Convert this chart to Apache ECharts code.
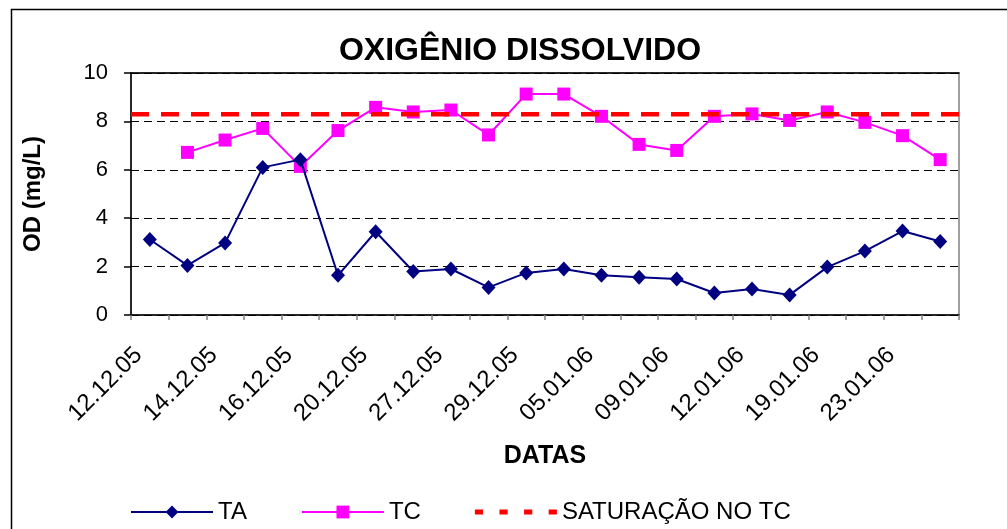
<!DOCTYPE html>
<html>
<head>
<meta charset="utf-8">
<script src="https://cdn.jsdelivr.net/npm/echarts@6/dist/echarts.min.js"></script>
<style>html,body{margin:0;padding:0;background:#fff}#c{width:1007px;height:529px}</style>
</head>
<body>
<div id="c"></div>
<script>
var categories = ['12.12.05','13.12.05','14.12.05','15.12.05','16.12.05','19.12.05','20.12.05','21.12.05','27.12.05','28.12.05','29.12.05','03.01.06','05.01.06','06.01.06','09.01.06','10.01.06','12.01.06','16.01.06','19.01.06','20.01.06','23.01.06','26.01.06'];
var ta = [3.12, 2.05, 2.98, 6.10, 6.42, 1.64, 3.44, 1.80, 1.90, 1.14, 1.74, 1.90, 1.64, 1.56, 1.49, 0.91, 1.07, 0.83, 1.98, 2.64, 3.47, 3.04];
var tc = [null, 6.72, 7.23, 7.71, 6.14, 7.62, 8.58, 8.39, 8.47, 7.44, 9.13, 9.13, 8.21, 7.05, 6.80, 8.21, 8.31, 8.04, 8.39, 7.96, 7.41, 6.42];
var saturacao = [8.3, 8.3];
var yTicks = [0, 2, 4, 6, 8, 10];

var chart = echarts.init(document.getElementById('c'), null, {renderer: 'canvas'});
var FONT = 'Liberation Sans, Arial, sans-serif';
chart.setOption({
  animation: false,
  backgroundColor: '#fff',
  textStyle: {fontFamily: FONT, color: '#000'},
  graphic: [{
    type: 'rect', shape: {x: 11.5, y: 9.5, width: 1010, height: 540},
    style: {fill: 'none', stroke: '#000', lineWidth: 1.5}, silent: true, z: -1
  }],
  title: {
    text: 'OXIGÊNIO DISSOLVIDO', left: 515, top: 30, textAlign: 'center',
    textStyle: {fontFamily: FONT, fontSize: 32, fontWeight: 'bold', color: '#000'}
  },
  legend: {
    left: 130, top: 500, padding: 0, itemWidth: 82, itemHeight: 16, itemGap: 54,
    textStyle: {fontFamily: FONT, fontSize: 24, color: '#000'},
    data: [
      {name: 'TA'},
      {name: 'TC'},
      {name: 'SATURAÇÃO NO TC', icon: 'path://M0,0h8v5h-8z M24,0h8v5h-8z M48,0h8v5h-8z M72,0h8v5h-8z', itemStyle: {color: '#ff0000'}}
    ]
  },
  grid: {left: 131, right: 48, top: 73, bottom: 214, show: true, borderColor: '#808080', borderWidth: 1.5},
  xAxis: [{
    type: 'category', data: categories, boundaryGap: true,
    name: 'DATAS', nameLocation: 'middle', nameGap: 129,
    nameTextStyle: {fontFamily: FONT, fontSize: 25, fontWeight: 'bold', color: '#000'},
    axisLine: {lineStyle: {color: '#000', width: 1.5}},
    axisTick: {show: true, interval: 0, length: 5, lineStyle: {color: '#808080', width: 1.5}},
    axisLabel: {interval: 1, rotate: 45, margin: 25, padding: [0, 16, 0, 0], fontFamily: FONT, fontSize: 24, color: '#000'}
  }, {
    type: 'category', data: ['a', 'b'], boundaryGap: false, position: 'top',
    axisLine: {show: true, lineStyle: {color: '#000', width: 1.5}},
    axisTick: {show: false}, axisLabel: {show: false}
  }],
  yAxis: {
    type: 'value', min: 0, max: 10, interval: 2,
    name: 'OD (mg/L)', nameLocation: 'middle', nameGap: 86,
    nameTextStyle: {fontFamily: FONT, fontSize: 24, fontWeight: 'bold', color: '#000'},
    axisLine: {show: true, lineStyle: {color: '#000', width: 1.5}},
    axisTick: {show: true, length: 7, lineStyle: {color: '#000', width: 1.5}},
    axisLabel: {margin: 23, fontFamily: FONT, fontSize: 22, color: '#000',
      formatter: function (v) { return yTicks.indexOf(v) >= 0 ? String(v) : ''; }},
    splitLine: {show: true, lineStyle: {color: '#000', type: [8, 5], width: 1}}
  },
  series: [{
    name: 'TA', type: 'line', data: ta, xAxisIndex: 0,
    symbol: 'diamond', symbolSize: [14, 15],
    lineStyle: {color: '#000080', width: 2},
    itemStyle: {color: '#000080'}, z: 3
  }, {
    name: 'TC', type: 'line', data: tc, xAxisIndex: 0,
    symbol: 'rect', symbolSize: 13,
    lineStyle: {color: '#ff00ff', width: 2},
    itemStyle: {color: '#ff00ff'}, z: 2
  }, {
    name: 'SATURAÇÃO NO TC', type: 'line', data: saturacao, xAxisIndex: 1,
    symbol: 'none',
    lineStyle: {color: '#ff0000', width: 4.5, type: [18, 12]},
    itemStyle: {color: '#ff0000'}, z: 4
  }]
});
</script>
</body>
</html>
